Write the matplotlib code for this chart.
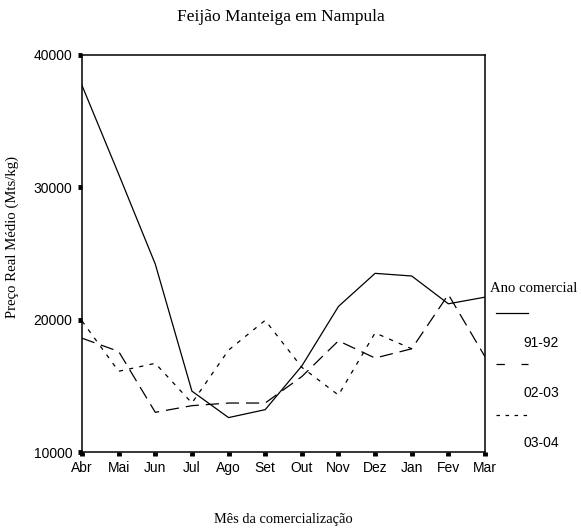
import numpy as np
import matplotlib
matplotlib.use("Agg")
import matplotlib.pyplot as plt
from matplotlib.lines import Line2D

plt.rcParams['lines.scale_dashes'] = False

months = ['Abr', 'Mai', 'Jun', 'Jul', 'Ago', 'Set', 'Out', 'Nov', 'Dez', 'Jan', 'Fev', 'Mar']
s_91_92 = [37700, 31000, 24200, 14600, 12600, 13200, 16500, 21000, 23500, 23300, 21200, 21700]
s_02_03 = [18600, 17600, 13000, 13500, 13700, 13700, 15700, 18400, 17100, 17800, 21900, 17200]
s_03_04 = [19900, 16100, 16700, 13700, 17700, 19950, 16400, 14300, 19000, 17800, np.nan, np.nan]
series_names = ['91-92', '02-03', '03-04']
y_ticks = [10000, 20000, 30000, 40000]

W, H = 581, 532
fig = plt.figure(figsize=(W / 100, H / 100), dpi=100)
ax = fig.add_axes([82 / W, 1 - 452 / H, (485 - 82) / W, (452 - 55) / H])

x = np.arange(len(months))
styles = ['-', (0, (9.5, 5)), (0, (3, 4.5))]
for vals, ls in zip([s_91_92, s_02_03, s_03_04], styles):
    ax.plot(x, vals, color='black', linewidth=0.9, linestyle=ls)

ax.set_xlim(0, len(months) - 1)
ax.set_ylim(10000, 40000)
ax.set_xticks(x)
ax.set_xticklabels(months, fontfamily='Liberation Sans', fontsize=10)
ax.set_yticks(y_ticks)
ax.set_yticklabels([str(v) for v in y_ticks], fontfamily='Liberation Sans', fontsize=10)
ax.tick_params(axis='both', direction='out', length=3, width=3.5, color='black')
ax.tick_params(axis='x', pad=3.5)
ax.tick_params(axis='y', pad=4)
for sp in ax.spines.values():
    sp.set_linewidth(1.1)
    sp.set_color('black')

serif = 'Liberation Serif'
fig.text(281 / W, 1 - 17 / H, 'Feijão Manteiga em Nampula', ha='center', va='center',
         fontfamily=serif, fontsize=12.5)
fig.text(12 / W, 1 - 237 / H, 'Preço Real Médio (Mts/kg)', rotation=90, ha='center', va='center',
         fontfamily=serif, fontsize=10.6)
fig.text(283 / W, 1 - 520 / H, 'Mês da comercialização', ha='center', va='center',
         fontfamily=serif, fontsize=10.4)

# legend
fig.text(490 / W, 1 - 288 / H, 'Ano comercial', ha='left', va='center', fontfamily=serif, fontsize=10.6)
leg_y = [313, 364, 415]
lab_y = [343, 393, 443]
leg_styles = ['-', (0, (6, 12)), (0, (2.5, 4))]
for name, ly, ty, ls in zip(series_names, leg_y, lab_y, leg_styles):
    fig.add_artist(Line2D([496 / W, 528 / W], [1 - ly / H, 1 - ly / H], color='black',
                          linewidth=0.9, linestyle=ls, transform=fig.transFigure))
    fig.text(541 / W, 1 - ty / H, name, ha='center', va='center', fontfamily='Liberation Sans', fontsize=10)

fig.savefig('out.png', dpi=100)
